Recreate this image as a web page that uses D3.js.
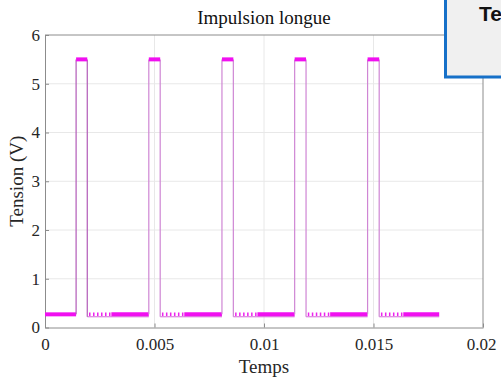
<!DOCTYPE html>
<html>
<head>
<meta charset="utf-8">
<script src="https://cdn.jsdelivr.net/npm/d3@7/dist/d3.min.js"></script>
<style>
  html, body { margin: 0; padding: 0; background: #fff; overflow: hidden; }
  svg { display: block; }
</style>
</head>
<body>
<script>
// ---- data ----
const titleText = "Impulsion longue";
const xLabelText = "Temps";
const yLabelText = "Tension (V)";
const xTicks = [0, 0.005, 0.01, 0.015, 0.02];
const xTickLabels = ["0", "0.005", "0.01", "0.015", "0.02"];
const yTicks = [0, 1, 2, 3, 4, 5, 6];
const yTickLabels = ["0", "1", "2", "3", "4", "5", "6"];
const riseTimes = [0.00142, 0.00474, 0.00808, 0.01140, 0.01473];
const fallTimes = [0.00193, 0.00526, 0.00860, 0.01192, 0.01526];
const highLevel = 5.5;
const lowLevel = 0.27;
const dipLevel = 0.22;
const startTime = 0;
const endTime = 0.018;
const noisyDuration = 0.0011;
const overlayText = "Te";

// ---- layout ----
const W = 501, H = 379;
const m = { left: 45, right: 18, top: 35, bottom: 51.5 };
const svg = d3.select("body").append("svg").attr("width", W).attr("height", H);

const x = d3.scaleLinear().domain([0, 0.02]).range([m.left, W - m.right]);
const y = d3.scaleLinear().domain([0, 6]).range([H - m.bottom, m.top]);

const serif = "'Liberation Serif', 'Times New Roman', serif";
const axisColor = "#8c8c8c";

// grid
const g = svg.append("g");
g.selectAll(".gx").data(xTicks.slice(1, -1)).enter().append("line")
  .attr("x1", d => x(d)).attr("x2", d => x(d))
  .attr("y1", y(0)).attr("y2", y(6))
  .attr("stroke", "#e8e8e8").attr("stroke-width", 1);
g.selectAll(".gy").data(yTicks.slice(1, -1)).enter().append("line")
  .attr("x1", x(0)).attr("x2", x(0.02))
  .attr("y1", d => y(d)).attr("y2", d => y(d))
  .attr("stroke", "#e8e8e8").attr("stroke-width", 1);

// axes via d3
const xAxis = d3.axisBottom(x).tickValues(xTicks).tickFormat((d, i) => xTickLabels[i]).tickSizeInner(-4).tickSizeOuter(0).tickPadding(10);
const yAxis = d3.axisLeft(y).tickValues(yTicks).tickFormat((d, i) => yTickLabels[i]).tickSizeInner(-4).tickSizeOuter(0).tickPadding(5);

const gx = svg.append("g").attr("transform", `translate(0,${y(0)})`).call(xAxis);
const gy = svg.append("g").attr("transform", `translate(${x(0)},0)`).call(yAxis);
[gx, gy].forEach(a => {
  a.select(".domain").attr("stroke", axisColor);
  a.selectAll(".tick line").attr("stroke", axisColor);
  a.selectAll(".tick text").attr("fill", "#262626").style("font-family", serif).style("font-size", "17px");
});
gx.selectAll(".tick text").attr("dy", "0.71em");
gx.selectAll(".tick").filter(d => d === 0.02).select("text").attr("dx", -2);

// box (top & right)
svg.append("line").attr("x1", x(0)).attr("x2", x(0.02)).attr("y1", y(6)).attr("y2", y(6)).attr("stroke", axisColor);
svg.append("line").attr("x1", x(0.02)).attr("x2", x(0.02)).attr("y1", y(6)).attr("y2", y(0)).attr("stroke", axisColor);

// ---- signal ----
const sig = svg.append("g");
const lowStarts = [startTime].concat(fallTimes);
const lowEnds = riseTimes.concat([endTime]);

// thin low line
lowStarts.forEach((s, i) => {
  sig.append("line")
    .attr("x1", x(s)).attr("x2", x(lowEnds[i]))
    .attr("y1", y(i === 0 ? lowLevel : dipLevel)).attr("y2", y(i === 0 ? lowLevel : dipLevel))
    .attr("stroke", "#d36ad6").attr("stroke-width", 1);
});
// noisy dashed part after each fall
lowStarts.forEach((s, i) => {
  if (i === 0) return;
  sig.append("line")
    .attr("x1", x(s + 0.00008)).attr("x2", x(s + noisyDuration))
    .attr("y1", y(lowLevel)).attr("y2", y(lowLevel))
    .attr("stroke", "#ee22ee").attr("stroke-width", 3.5)
    .attr("stroke-dasharray", "1.5,2.5");
});
// solid low plateau
lowStarts.forEach((s, i) => {
  const a = i === 0 ? s : s + noisyDuration;
  sig.append("line")
    .attr("x1", x(a)).attr("x2", x(lowEnds[i]))
    .attr("y1", y(lowLevel)).attr("y2", y(lowLevel))
    .attr("stroke", "#f010f0").attr("stroke-width", 4);
});
// edges
riseTimes.forEach((r, i) => {
  const f = fallTimes[i];
  sig.append("path")
    .attr("d", `M${x(r)},${y(lowLevel)}V${y(highLevel)}M${x(f)},${y(highLevel)}V${y(dipLevel)}`)
    .attr("fill", "none").attr("stroke", i === 0 ? "#b25bb8" : "#cf86d4").attr("stroke-width", 1.2);
  sig.append("line")
    .attr("x1", x(r)).attr("x2", x(f))
    .attr("y1", y(highLevel)).attr("y2", y(highLevel))
    .attr("stroke", "#f010f0").attr("stroke-width", 4);
});

// titles
svg.append("text").attr("x", (x(0) + x(0.02)) / 2).attr("y", 24)
  .attr("text-anchor", "middle").style("font-family", serif).style("font-size", "19px").attr("fill", "#111")
  .text(titleText);
svg.append("text").attr("x", (x(0) + x(0.02)) / 2).attr("y", 373)
  .attr("text-anchor", "middle").style("font-family", serif).style("font-size", "19px").attr("fill", "#262626")
  .text(xLabelText);
svg.append("text").attr("transform", `translate(23,${(y(0) + y(6)) / 2}) rotate(-90)`)
  .attr("text-anchor", "middle").style("font-family", serif).style("font-size", "19px").attr("fill", "#262626")
  .text(yLabelText);

// overlay box at top-right
svg.append("rect").attr("x", 445.5).attr("y", -3).attr("width", 60).attr("height", 80)
  .attr("fill", "#f0f0f0").attr("stroke", "#1670c8").attr("stroke-width", 3);
svg.append("text").attr("x", 479).attr("y", 21)
  .style("font-family", "'Liberation Sans', Arial, sans-serif").style("font-weight", "bold").style("font-size", "21px")
  .attr("fill", "#111").text(overlayText);
</script>
</body>
</html>
